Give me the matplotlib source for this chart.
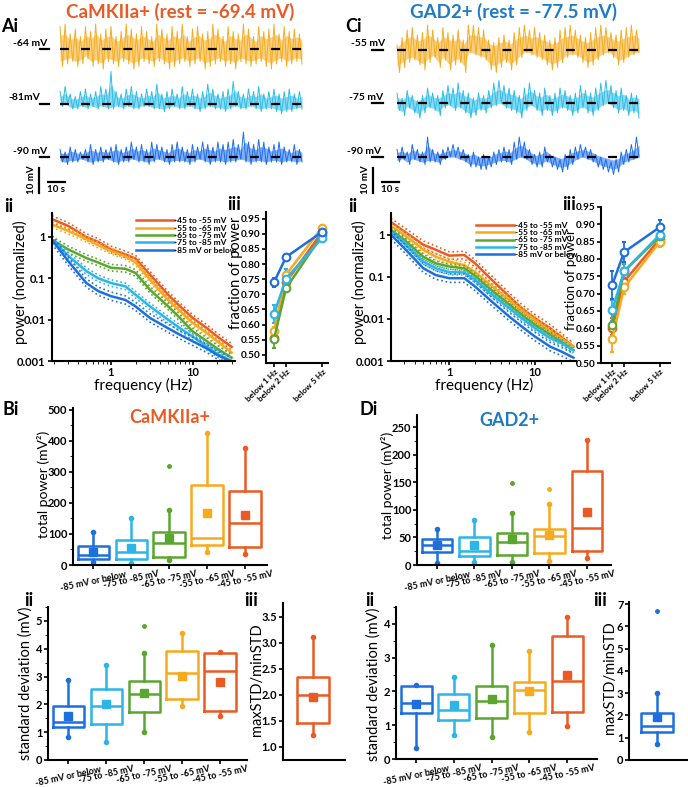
import numpy as np
import matplotlib.pyplot as plt
from matplotlib.ticker import MultipleLocator, NullLocator

plt.rcParams['font.family'] = ['Lato', 'DejaVu Sans']
plt.rcParams['axes.linewidth'] = 1.5
plt.rcParams['xtick.major.width'] = 1.2
plt.rcParams['ytick.major.width'] = 1.2
NARROW = ['Liberation Sans Narrow', 'DejaVu Sans Condensed', 'Lato']

RED = '#EA5A24'
YEL = '#F6AA1E'
GRN = '#5BA62E'
CYN = '#2CB5E6'
BLU = '#1E6FDE'
TITLE_BLUE = '#1F7BC4'

# ---------------- data ----------------
groups = ['-85 mV or below', '-75 to -85 mV', '-65 to -75 mV', '-55 to -65 mV', '-45 to -55 mV']
gcols = [BLU, CYN, GRN, YEL, RED]

# voltage traces: max / min per bin (mV relative to the holding level)
ca_labels = ['-64 mV', '-81mV', '-90 mV']
ca_hi = [
    [9, 10, 6, 8, 5, 9, 7, 10, 6, 8, 9, 5, 7, 10, 8, 6, 9, 7, 5, 10, 8, 6, 9, 7, 10, 5, 8, 9, 6, 7, 10, 8, 5, 9, 7, 6, 10, 8, 5, 9, 7, 8, 10, 6, 9, 7, 8, 6],
    [5, 7, 4, 3, 5, 6, 4, 5, 7, 6, 13, 5, 4, 6, 7, 5, 4, 6, 5, 8, 4, 5, 6, 4, 7, 5, 6, 4, 5, 8, 6, 4, 5, 6, 9, 5, 4, 6, 5, 7, 4, 5, 6, 4, 5, 6, 4, 5],
    [3, 2, 4, 3, 2, 3, 5, 3, 4, 3, 4, 5, 3, 4, 6, 4, 5, 3, 6, 5, 4, 3, 5, 6, 4, 3, 5, 4, 6, 5, 4, 6, 5, 6, 7, 5, 10, 6, 5, 7, 6, 4, 5, 6, 4, 3, 5, 3],
]
ca_lo = [
    [-7, -6, -5, -7, -6, -4, -7, -6, -8, -5, -6, -7, -5, -6, -8, -7, -5, -6, -7, -5, -6, -8, -7, -6, -5, -7, -6, -5, -8, -7, -6, -5, -7, -6, -8, -5, -6, -7, -6, -5, -7, -8, -6, -5, -7, -6, -5, -6],
    [-1, 0, -2, -2, -1, -2, -1, -2, -1, -2, -2, -1, -2, -1, -2, -2, -1, -1, -2, -2, -3, -2, -1, -2, -2, -1, -2, -3, -2, -1, -2, -2, -3, -2, -1, -2, -2, -1, -2, -3, -2, -2, -3, -4, -3, -3, -2, -2],
    [-2, -3, -2, -2, -1, -2, -3, -2, -2, -1, -2, -3, -2, -2, -1, -2, -2, -3, -2, -1, -2, -3, -2, -2, -2, -3, -2, -1, -2, -3, -2, -2, -3, -2, -2, -1, -2, -3, -2, -2, -3, -2, -2, -3, -2, -2, -3, -2],
]
gad_labels = ['-55 mV', '-75 mV', '-90 mV']
gad_hi = [
    [2, 5, 8, 9, 6, 7, 10, 8, 5, 9, 7, 6, 8, 4, 10, 10, 9, 8, 4, 3, 5, 6, 4, 7, 9, 10, 8, 9, 7, 6, 4, 5, 8, 9, 10, 8, 6, 5, 7, 9, 10, 9, 7, 6, 8, 9, 10, 8],
    [4, 2, 5, 3, 1, 3, 6, 4, 3, 5, 7, 6, 8, 5, 4, 2, 4, 3, 5, 8, 9, 7, 6, 5, 3, 6, 8, 5, 4, 6, 3, 4, 6, 5, 3, 4, 7, 5, 4, 6, 8, 9, 7, 5, 6, 3, 4, 3],
    [3, 4, 2, 5, 3, 2, 8, 3, 2, 3, 4, 5, 4, 3, 1, 2, 0, 1, 0, 2, 3, 4, 3, 6, 8, 6, 3, 1, 2, 4, 1, 0, -1, 1, 3, 4, 5, 4, 3, 1, 0, -1, -2, -1, 2, 3, 5, 8],
]
gad_lo = [
    [-9, -7, -5, -4, -6, -8, -5, -3, -7, -4, -8, -6, -5, -9, -1, -2, -3, -4, -8, -9, -7, -5, -8, -6, -3, -1, -2, -3, -4, -6, -8, -7, -5, -3, -2, -3, -5, -7, -6, -4, -2, -1, -3, -6, -5, -3, -2, -1],
    [-3, -5, -2, -4, -6, -4, -2, -3, -5, -2, -1, -3, -2, -4, -6, -5, -3, -4, -2, -1, 0, -2, -3, -4, -6, -3, -1, -3, -5, -3, -5, -4, -2, -3, -5, -4, -2, -4, -5, -3, -1, 0, -2, -4, -3, -5, -4, -6],
    [-2, -1, -3, -1, -2, -3, -2, -2, -3, -1, 0, 0, -1, -2, -4, -4, -5, -5, -4, -3, -2, -2, -3, -1, 0, -1, -3, -4, -4, -2, -4, -5, -6, -5, -3, -1, 0, -1, -2, -4, -5, -6, -7, -6, -3, -2, -1, 0],
]
trace_cols = ['#F6AC1F', '#2CBDE8', '#1C6EEE']

# power spectra (normalized), order: -45..-55, -55..-65, -65..-75, -75..-85, <=-85
spec_names = ['-45 to -55 mV', '-55 to -65 mV', '-65 to -75 mV', '-75 to -85 mV', '-85 mV or below']
spec_cols = [RED, YEL, GRN, CYN, BLU]
ca_freq = [0.19, 0.3, 0.5, 0.7, 1, 1.5, 2, 3, 5, 7, 10, 15, 20, 30]
ca_pow = [
    [2.7, 1.85, 1.0, 0.76, 0.50, 0.38, 0.30, 0.123, 0.040, 0.021, 0.011, 0.0062, 0.0039, 0.0022],
    [2.0, 1.4, 0.88, 0.63, 0.46, 0.34, 0.24, 0.093, 0.030, 0.016, 0.0083, 0.0047, 0.0030, 0.0016],
    [0.85, 0.50, 0.31, 0.24, 0.18, 0.17, 0.135, 0.053, 0.021, 0.011, 0.0052, 0.0030, 0.0020, 0.0012],
    [0.88, 0.35, 0.15, 0.10, 0.077, 0.064, 0.040, 0.021, 0.010, 0.0062, 0.0039, 0.0022, 0.0015, 0.0010],
    [0.85, 0.26, 0.077, 0.049, 0.037, 0.030, 0.021, 0.011, 0.0062, 0.0043, 0.0030, 0.0020, 0.0014, 0.00095],
]
ca_sem = [0.08, 0.07, 0.08, 0.08, 0.10]  # half band width, log10 units
gad_freq = [0.21, 0.3, 0.5, 0.7, 1, 1.5, 2, 3, 5, 7, 10, 15, 20, 28]
gad_pow = [
    [2.0, 1.2, 0.58, 0.44, 0.32, 0.33, 0.21, 0.093, 0.034, 0.018, 0.0104, 0.0060, 0.0038, 0.0022],
    [1.6, 1.0, 0.44, 0.30, 0.23, 0.19, 0.13, 0.065, 0.028, 0.016, 0.0095, 0.0050, 0.0035, 0.0022],
    [1.3, 0.76, 0.30, 0.21, 0.176, 0.16, 0.106, 0.051, 0.022, 0.0125, 0.0072, 0.0042, 0.0029, 0.0018],
    [1.2, 0.63, 0.23, 0.16, 0.13, 0.127, 0.085, 0.041, 0.018, 0.0104, 0.0060, 0.0035, 0.0027, 0.0018],
    [1.0, 0.48, 0.16, 0.11, 0.093, 0.093, 0.059, 0.028, 0.0114, 0.0066, 0.0038, 0.0022, 0.0017, 0.0012],
]
gad_sem = [0.09, 0.07, 0.06, 0.06, 0.10]

# fraction of power below 1, 2, 5 Hz
frac_x = [1, 2, 5]
frac_labels = ['below 1 Hz', 'below 2 Hz', 'below 5 Hz']
ca_frac = [[0.555, 0.74, 0.905], [0.578, 0.765, 0.92], [0.553, 0.72, 0.895], [0.635, 0.752, 0.885], [0.74, 0.823, 0.906]]
ca_frac_err = [[0.01, 0.01, 0.01], [0.015, 0.01, 0.008], [0.03, 0.012, 0.01], [0.03, 0.03, 0.01], [0.015, 0.01, 0.008]]
gad_frac = [[0.60, 0.735, 0.858], [0.568, 0.718, 0.85], [0.61, 0.765, 0.865], [0.652, 0.765, 0.87], [0.725, 0.82, 0.892]]
gad_frac_err = [[0.03, 0.025, 0.015], [0.035, 0.02, 0.015], [0.03, 0.02, 0.012], [0.03, 0.025, 0.012], [0.04, 0.03, 0.02]]

# box plots (order follows groups)
ca_tp = dict(q1=[19, 19, 27, 65, 59], med=[32, 43, 72, 86, 134], q3=[61, 82, 107, 258, 237],
             wlo=[11, 5, 16, 43, 35], whi=[107, 153, 177, 427, 378], mean=[43, 55, 86, 168, 160],
             fliers=[[], [], [319], [], []])
gad_tp = dict(q1=[23, 17, 19, 21, 26], med=[36, 25, 42, 52, 67], q3=[47, 51, 58, 65, 170],
              wlo=[3, 6, 6, 8, 13], whi=[65, 81, 94, 111, 227], mean=[36, 36, 47, 55, 96],
              fliers=[[], [], [149], [137], []])
ca_sd = dict(q1=[1.17, 1.28, 1.71, 2.19, 1.77], med=[1.38, 1.94, 2.36, 3.13, 3.21], q3=[1.94, 2.57, 2.85, 3.92, 3.85],
             wlo=[0.81, 0.66, 1.02, 1.94, 1.58], whi=[2.87, 3.43, 3.83, 4.57, 3.89], mean=[1.58, 2.03, 2.42, 3.03, 2.80],
             fliers=[[], [], [4.82], [], []])
gad_sd = dict(q1=[1.36, 1.14, 1.21, 1.36, 1.39], med=[1.67, 1.44, 1.73, 2.03, 2.30], q3=[2.17, 1.93, 2.17, 2.27, 3.63],
              wlo=[0.33, 0.72, 0.64, 0.80, 0.99], whi=[2.2, 2.44, 3.37, 3.21, 4.2], mean=[1.63, 1.59, 1.78, 2.0, 2.49],
              fliers=[[], [], [], [], []])
ca_ratio = dict(q1=[1.45], med=[1.99], q3=[2.33], wlo=[1.22], whi=[3.10], mean=[1.95], fliers=[[]])
gad_ratio = dict(q1=[1.24], med=[1.52], q3=[2.09], wlo=[0.72], whi=[2.99], mean=[1.94], fliers=[[6.70]])

# ---------------- figure ----------------
W, H = 688, 787
fig = plt.figure(figsize=(6.88, 7.87), dpi=100)


def ax_px(l, t, r, b):
    return fig.add_axes([l / W, 1 - b / H, (r - l) / W, (b - t) / H])


def ftext(x, y, s, **kw):
    kw.setdefault('ha', 'center')
    kw.setdefault('va', 'center')
    fig.text(x / W, 1 - y / H, s, **kw)


T_LEN = 142.0
PX_S = 242 / T_LEN


def trace_panel(x0, trace_x, bases, his, los, labels, lab_x, tick_x, bar_x):
    ax = ax_px(x0, 15, x0 + 344, 200)
    ax.set_xlim(-(trace_x - x0) / PX_S, (x0 + 344 - trace_x) / PX_S)
    ax.set_ylim(-200 / 2.5, -15 / 2.5)
    ax.axis('off')
    for base_px, hi, lo, lab, lx, col in zip(bases, his, los, labels, lab_x, trace_cols):
        base = -base_px / 2.5
        hi = np.array(hi, float)
        lo = np.array(lo, float)
        tb = np.linspace(0, T_LEN, len(hi))
        ax.fill_between(tb, base + lo * 0.7, base + hi * 0.6, color=col, alpha=0.55, lw=0)
        y = np.empty(2 * len(hi))
        y[0::2] = hi
        y[1::2] = lo
        t = np.linspace(0, T_LEN, len(y))
        ax.plot(t, base + y, color=col, lw=0.7)
        ax.plot([0, T_LEN + 2], [base, base], color='k', lw=1.6, dashes=(4, 5.5), zorder=5)
        ax.plot([(tick_x[0] - trace_x) / PX_S, (tick_x[1] - trace_x) / PX_S], [base, base],
                color='k', lw=1.6, clip_on=False)
        ftext(lx, base_px - 6, lab, ha='left', fontsize=7.5, weight='bold', family=NARROW)
    # scale bars
    xs = (bar_x - trace_x) / PX_S
    ax.plot([xs, xs], [-193 / 2.5, -193 / 2.5 + 10], color='k', lw=1.6, clip_on=False)
    ax.plot([xs + 5, xs + 15], [-182 / 2.5, -182 / 2.5], color='k', lw=1.6, clip_on=False)
    ftext(bar_x - 7, 180, '10 mV', rotation=90, fontsize=7, weight='bold', family=NARROW)
    ftext(bar_x + 17, 190, '10 s', fontsize=7, weight='bold', family=NARROW)


trace_panel(0, 60, [49, 104, 157], ca_hi, ca_lo, ca_labels, [13, 8, 13], (40, 49), 39)
trace_panel(344, 397, [50, 103, 157], gad_hi, gad_lo, gad_labels, [351, 349, 347], (372, 383), 373)
ftext(180, 12, 'CaMKIIa+ (rest = -69.4 mV)', color=RED, fontsize=13.5, weight='bold')
ftext(514, 12, 'GAD2+ (rest = -77.5 mV)', color=TITLE_BLUE, fontsize=13.5, weight='bold')


def style(ax, fs=8):
    ax.spines['top'].set_visible(False)
    ax.spines['right'].set_visible(False)
    ax.tick_params(labelsize=fs, width=1.2, length=3, pad=1.5)
    for lab in ax.get_xticklabels() + ax.get_yticklabels():
        lab.set_fontweight('bold')
        lab.set_family(NARROW)


def spectra(rect, freq, pows, sems, xlim, ytop, leg_anchor):
    ax = ax_px(*rect)
    for p, s, c, n in zip(pows, sems, spec_cols, spec_names):
        p = np.array(p)
        ax.plot(freq, p, color=c, lw=1.8, label=n)
        ax.plot(freq, p * 10 ** s, color=c, lw=1.2, ls=':')
        ax.plot(freq, p / 10 ** s, color=c, lw=1.2, ls=':')
    ax.set_xscale('log')
    ax.set_yscale('log')
    ax.set_xlim(*xlim)
    ax.set_ylim(0.001, ytop)
    ax.set_yticks([0.001, 0.01, 0.1, 1], ['0.001', '0.01', '0.1', '1'])
    ax.set_xticks([1, 10], ['1', '10'])
    ax.yaxis.set_minor_locator(NullLocator())
    style(ax, 8)
    ax.tick_params(axis='x', pad=1)
    ax.legend(loc='upper left', bbox_to_anchor=leg_anchor, frameon=False,
              handlelength=4.5, labelspacing=0.05, handletextpad=0.1, borderpad=0,
              prop={'weight': 'bold', 'size': 6, 'family': NARROW})
    return ax


spectra((52, 213, 235, 361), ca_freq, ca_pow, ca_sem, (0.19, 33), 3.8, (0.437, 1.0))
spectra((391, 213, 576, 361), gad_freq, gad_pow, gad_sem, (0.21, 30), 3.3, (0.438, 0.97))


def fraction(rect, vals, errs, xlim, ylim):
    ax = ax_px(*rect)
    for v, e, c in zip(vals, errs, spec_cols):
        ax.errorbar(frac_x, v, yerr=e, color=c, lw=1.8, marker='o', ms=5.5, mfc='white',
                    mew=1.5, capsize=1.5, elinewidth=1.3)
    ax.set_xlim(*xlim)
    ax.set_ylim(*ylim)
    ax.set_yticks(np.arange(0.50, 0.951, 0.05))
    ax.yaxis.set_major_formatter(plt.FormatStrFormatter('%.2f'))
    ax.set_xticks(frac_x, frac_labels, rotation=45, ha='right', rotation_mode='anchor')
    style(ax, 7.2)
    ax.tick_params(axis='y', pad=1)
    ax.tick_params(axis='x', labelsize=6, pad=1)
    return ax


fraction((266, 212, 328, 363), ca_frac, ca_frac_err, (0.33, 5.5), (0.473, 0.972))
fraction((601, 207, 670, 363), gad_frac, gad_frac_err, (0.06, 5.85), (0.5, 0.95))


def boxes(rect, d, xlim, ylim, cols, labels=None, minor=None, fmt=None, width=0.82):
    ax = ax_px(*rect)
    n = len(d['med'])
    pos = np.arange(1, n + 1)
    stats = [dict(q1=d['q1'][i], med=d['med'][i], q3=d['q3'][i], whislo=d['wlo'][i],
                  whishi=d['whi'][i], fliers=[]) for i in range(n)]
    bp = ax.bxp(stats, positions=pos, widths=width, showcaps=False, showfliers=False)
    for i, c in enumerate(cols):
        bp['boxes'][i].set(color=c, lw=1.8)
        bp['medians'][i].set(color=c, lw=1.8)
        bp['whiskers'][2 * i].set(color=c, lw=1.8)
        bp['whiskers'][2 * i + 1].set(color=c, lw=1.8)
        ax.plot([pos[i]] * 2, [d['wlo'][i], d['whi'][i]], 'o', color=c, ms=3, ls='none')
        ax.plot(pos[i], d['mean'][i], 's', color=c, ms=5.5)
        if d['fliers'][i]:
            ax.plot([pos[i]] * len(d['fliers'][i]), d['fliers'][i], 'o', color=c, ms=2.5, ls='none')
    ax.set_xlim(*xlim)
    ax.set_ylim(*ylim)
    if labels is not None:
        ax.set_xticks(pos, labels, rotation=12, ha='center')
    else:
        ax.set_xticks([])
    if minor:
        ax.yaxis.set_minor_locator(MultipleLocator(minor))
    if fmt:
        ax.yaxis.set_major_formatter(plt.FormatStrFormatter(fmt))
    style(ax, 8)
    ax.tick_params(axis='y', pad=1)
    ax.tick_params(axis='x', labelsize=6.5, pad=0.5)
    return ax


a = boxes((73, 408, 267, 565), ca_tp, (0.47, 5.58), (0, 506), gcols, groups, 50)
a.set_yticks(range(0, 501, 100))
a = boxes((417, 415, 611, 565), gad_tp, (0.47, 5.64), (0, 272), gcols, groups, 25)
a.set_yticks(range(0, 251, 50))
a = boxes((48, 607, 247, 760), ca_sd, (0.47, 5.71), (0, 5.5), gcols, groups, 0.5)
a.set_yticks(range(0, 6))
a = boxes((396, 607, 597, 759), gad_sd, (0.47, 5.79), (0, 4.5), gcols, groups, 0.5)
a.set_yticks(range(0, 5))
a = boxes((283, 603, 345, 760), ca_ratio, (0.25, 1.8), (0.744, 3.76), [RED], None, None, '%.1f')
a.set_yticks(np.arange(1.0, 3.51, 0.5))
a = boxes((629, 602, 688, 760), gad_ratio, (0.3, 1.78), (0, 7.09), [BLU], None)
a.set_yticks(range(0, 8))

# axis labels
ftext(20, 282, 'power (normalized)', rotation=90, fontsize=10.5)
ftext(143, 385, 'frequency (Hz)', fontsize=11)
ftext(359, 282, 'power (normalized)', rotation=90, fontsize=10.5)
ftext(484, 385, 'frequency (Hz)', fontsize=11)
ftext(236, 273, 'fraction of power', rotation=90, fontsize=10.5)
ftext(571, 280, 'fraction of power', rotation=90, fontsize=9.5)
ftext(44, 484, 'total power (mV²)', rotation=90, fontsize=10)
ftext(387, 485, 'total power (mV²)', rotation=90, fontsize=10)
ftext(26, 683, 'standard deviation (mV)', rotation=90, fontsize=10.5)
ftext(374, 684, 'standard deviation (mV)', rotation=90, fontsize=10.5)
ftext(257, 680, 'maxSTD/minSTD', rotation=90, fontsize=10.5)
ftext(610, 678, 'maxSTD/minSTD', rotation=90, fontsize=10.5)
ftext(170, 418, 'CaMKIIa+', color=RED, fontsize=13, weight='bold')
ftext(509, 420, 'GAD2+', color=TITLE_BLUE, fontsize=13, weight='bold')

# panel letters
for x, y, s in [(10, 26, 'Ai'), (354, 26, 'Ci'), (9, 207, 'ii'), (353, 207, 'ii'),
                (234, 205, 'iii'), (569, 205, 'iii'), (11, 409, 'Bi'), (369, 409, 'Di'),
                (29, 600, 'ii'), (370, 600, 'ii'), (251, 600, 'iii'), (600, 600, 'iii')]:
    ftext(x, y, s, fontsize=13, weight='bold')

fig.savefig('out.png', dpi=100)
